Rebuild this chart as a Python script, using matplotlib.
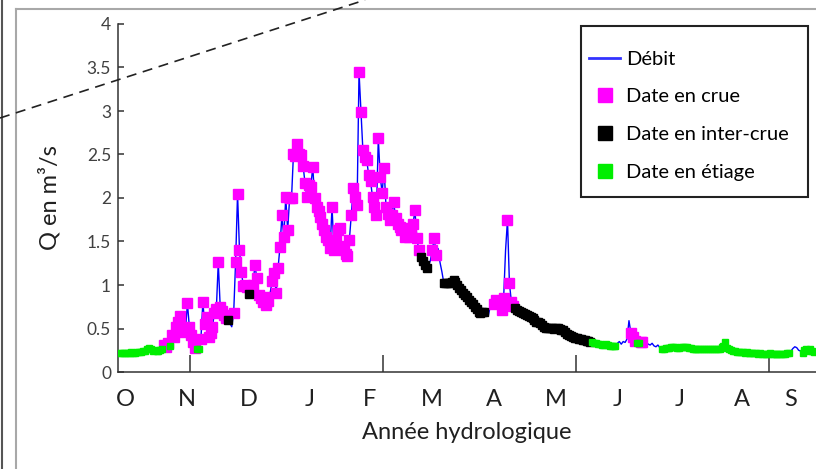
import numpy as np
import matplotlib
matplotlib.use('Agg')
import matplotlib.pyplot as plt
from matplotlib.lines import Line2D
from matplotlib.patches import Rectangle

plt.rcParams['font.family'] = ['Lato', 'DejaVu Sans']

# Daily discharge (m3/s), day 1 = 1st October of the hydrological year
debit = [
    0.22, 0.22, 0.22, 0.22, 0.22, 0.22, 0.23, 0.22, 0.22, 0.23,
    0.23, 0.23, 0.24, 0.24, 0.26, 0.28, 0.26, 0.24, 0.25, 0.24,
    0.24, 0.25, 0.27, 0.31, 0.29, 0.33, 0.30, 0.43, 0.40, 0.52,
    0.58, 0.64, 0.50, 0.46, 0.48, 0.79, 0.52, 0.42, 0.35, 0.28,
    0.27, 0.26, 0.38, 0.80, 0.55, 0.63, 0.40, 0.45, 0.52, 0.68,
    0.72, 1.26, 0.75, 0.70, 0.66, 0.62, 0.60, 0.56, 0.52, 0.68,
    1.27, 2.05, 1.40, 1.15, 0.99, 1.00, 0.98, 0.90, 0.98, 1.00,
    1.23, 1.08, 0.88, 0.85, 0.80, 0.86, 0.77, 0.82, 0.92, 1.05,
    1.14, 0.91, 1.19, 1.44, 1.80, 1.55, 2.01, 1.63, 2.00, 2.00,
    2.51, 2.48, 2.62, 2.50, 2.49, 2.37, 2.17, 2.01, 2.15, 2.13,
    2.36, 2.00, 1.90, 1.85, 1.78, 1.70, 1.63, 1.55, 1.52, 1.42,
    1.90, 1.40, 1.50, 1.63, 1.65, 1.45, 1.40, 1.36, 1.33, 1.52,
    1.81, 2.12, 2.01, 1.92, 3.45, 2.99, 2.55, 2.47, 2.44, 2.26,
    2.19, 2.01, 1.90, 1.80, 2.69, 2.24, 2.06, 2.34, 1.90, 1.82,
    1.75, 1.80, 1.95, 1.77, 1.70, 1.67, 1.63, 1.65, 1.55, 1.60,
    1.55, 1.62, 1.70, 1.86, 1.54, 1.40, 1.32, 1.28, 1.23, 1.19,
    1.22, 1.28, 1.40, 1.54, 1.35, 1.42, 1.26, 1.15, 1.02, 1.02,
    1.02, 1.02, 1.04, 1.06, 1.03, 1.00, 0.97, 0.94, 0.91, 0.89,
    0.86, 0.83, 0.80, 0.78, 0.75, 0.72, 0.69, 0.68, 0.69, 0.69,
    0.66, 0.64, 0.75, 0.86, 0.78, 0.83, 0.80, 0.79, 0.71, 0.85,
    1.40, 1.75, 1.02, 0.81, 0.76, 0.73, 0.71, 0.70, 0.69, 0.68,
    0.67, 0.66, 0.64, 0.63, 0.62, 0.60, 0.58, 0.57, 0.56, 0.54,
    0.52, 0.51, 0.51, 0.51, 0.51, 0.50, 0.51, 0.51, 0.50, 0.48,
    0.48, 0.46, 0.44, 0.42, 0.41, 0.40, 0.39, 0.39, 0.38, 0.38,
    0.37, 0.37, 0.36, 0.36, 0.35, 0.34, 0.33, 0.33, 0.32, 0.32,
    0.31, 0.31, 0.32, 0.31, 0.30, 0.30, 0.30, 0.30, 0.33, 0.35,
    0.32, 0.35, 0.34, 0.38, 0.59, 0.45, 0.40, 0.36, 0.33, 0.33,
    0.35, 0.35, 0.33, 0.34, 0.32, 0.31, 0.33, 0.30, 0.29, 0.31,
    0.28, 0.27, 0.27, 0.28, 0.28, 0.28, 0.29, 0.29, 0.29, 0.28,
    0.28, 0.29, 0.29, 0.29, 0.29, 0.28, 0.28, 0.27, 0.27, 0.27,
    0.26, 0.26, 0.26, 0.27, 0.27, 0.26, 0.26, 0.26, 0.26, 0.26,
    0.26, 0.27, 0.29, 0.30, 0.35, 0.28, 0.26, 0.25, 0.24, 0.24,
    0.23, 0.23, 0.23, 0.23, 0.22, 0.23, 0.22, 0.22, 0.22, 0.22,
    0.22, 0.21, 0.22, 0.21, 0.21, 0.21, 0.21, 0.22, 0.21, 0.21,
    0.21, 0.21, 0.21, 0.21, 0.21, 0.21, 0.22, 0.22, 0.24, 0.27,
    0.29, 0.28, 0.25, 0.24, 0.22, 0.25, 0.27, 0.24, 0.26, 0.24, 0.23,
]

# state of each day, run-length coded: c = crue, i = inter-crue, e = etiage, n = none
etat_runs = [
    ('e', 23), ('c', 3), ('e', 1), ('c', 13), ('e', 2), ('c', 14), ('i', 1),
    ('n', 2), ('c', 8), ('i', 1), ('c', 10), ('n', 1), ('c', 77), ('i', 4),
    ('n', 2), ('c', 3), ('n', 3), ('i', 22), ('n', 4), ('c', 6), ('n', 1),
    ('c', 4), ('i', 40), ('e', 13), ('n', 7), ('c', 3), ('e', 2), ('c', 2),
    ('n', 9), ('e', 67), ('n', 6), ('e', 7),
]

mois = ['O', 'N', 'D', 'J', 'F', 'M', 'A', 'M', 'J', 'J', 'A', 'S']
mois_pos = [3.6, 35.8, 67.9, 99.6, 130.7, 162.9, 195, 227.2, 259.3, 291.5, 323.7, 348.6]
graduations = [37.5, 137.5, 237.5, 337.5]
yticks = [0, 0.5, 1, 1.5, 2, 2.5, 3, 3.5, 4]
ytick_labels = ['0', '0.5', '1', '1.5', '2', '2.5', '3', '3.5', '4']

jours = np.arange(1, len(debit) + 1)
q = np.array(debit)
etat = np.array(list(''.join(c * n for c, n in etat_runs)))

fig = plt.figure(figsize=(8.16, 4.69), dpi=100)
ax = fig.add_axes([118 / 816, 1 - 372 / 469, 1 - 118 / 816, (372 - 24) / 469])

# hydrograph, then the day markers on top
ax.plot(jours, q, color='#0000ff', lw=1.0, zorder=2)
m = etat == 'c'
ax.plot(jours[m], q[m], 's', color='#ff00ff', ms=6.6, ls='none', zorder=3)
m = etat == 'i'
ax.plot(jours[m], q[m], 's', color='black', ms=5.8, ls='none', zorder=3)
m = etat == 'e'
ax.plot(jours[m], q[m], 's', color='#00ee00', ms=3.8, ls='none', zorder=3)

ax.set_xlim(0, 362)
ax.set_ylim(0, 4)
ax.set_yticks(yticks)
ax.set_yticklabels(ytick_labels, fontsize=12.5, color='#404040')
ax.set_xticks(graduations)
ax.set_xticklabels([])
ax.set_xticks(mois_pos, minor=True)
ax.set_xticklabels(mois, minor=True, fontsize=17, color='#202020')
ax.tick_params(axis='x', which='major', direction='in', length=12, width=1.1, color='#333333')
ax.tick_params(axis='x', which='minor', length=0, pad=12)
ax.tick_params(axis='y', direction='in', length=4, width=1.1, color='#333333', pad=5)
for s in ['top', 'right']:
    ax.spines[s].set_visible(False)
for s in ['left', 'bottom']:
    ax.spines[s].set_color('#333333')
    ax.spines[s].set_linewidth(1.1)

ax.set_xlabel('Année hydrologique', fontsize=17, color='#202020', labelpad=9)
ax.set_ylabel('Q en m³/s', fontsize=17, color='#202020', labelpad=19)

# legend: entries without frame, box drawn separately
handles = [
    Line2D([], [], color='#3333ff', lw=2),
    Line2D([], [], marker='s', color='#ff00ff', ls='none', ms=10),
    Line2D([], [], marker='s', color='black', ls='none', ms=10),
    Line2D([], [], marker='s', color='#00ee00', ls='none', ms=10),
]
ax.legend(handles, ['Débit', 'Date en crue', 'Date en inter-crue', 'Date en étiage'],
          loc='upper left', bbox_to_anchor=(589 / 816, 1 - 50.5 / 469),
          bbox_transform=fig.transFigure, fontsize=14.5, frameon=False,
          labelspacing=1.03, handlelength=1.55, handletextpad=0.3,
          borderpad=0, borderaxespad=0)
fig.add_artist(Rectangle((581 / 816, 1 - 197 / 469), 227 / 816, 171 / 469,
                         transform=fig.transFigure, fill=False,
                         edgecolor='#222222', lw=1.5))

# page decorations around the figure
fig.add_artist(Line2D([16 / 816, 16 / 816], [0, 1 - 9 / 469], color='#a8a8a8', lw=1.5))
fig.add_artist(Line2D([16 / 816, 1], [1 - 9 / 469, 1 - 9 / 469], color='#a8a8a8', lw=1.5))
fig.add_artist(Line2D([2 / 816, 2 / 816], [0, 1], color='#555555', lw=1.5))
fig.add_artist(Line2D([0, 365 / 816], [1 - 118 / 469, 1], color='#222222', lw=1.2, ls=(0, (6, 4))))

fig.savefig('out.png', dpi=100)
